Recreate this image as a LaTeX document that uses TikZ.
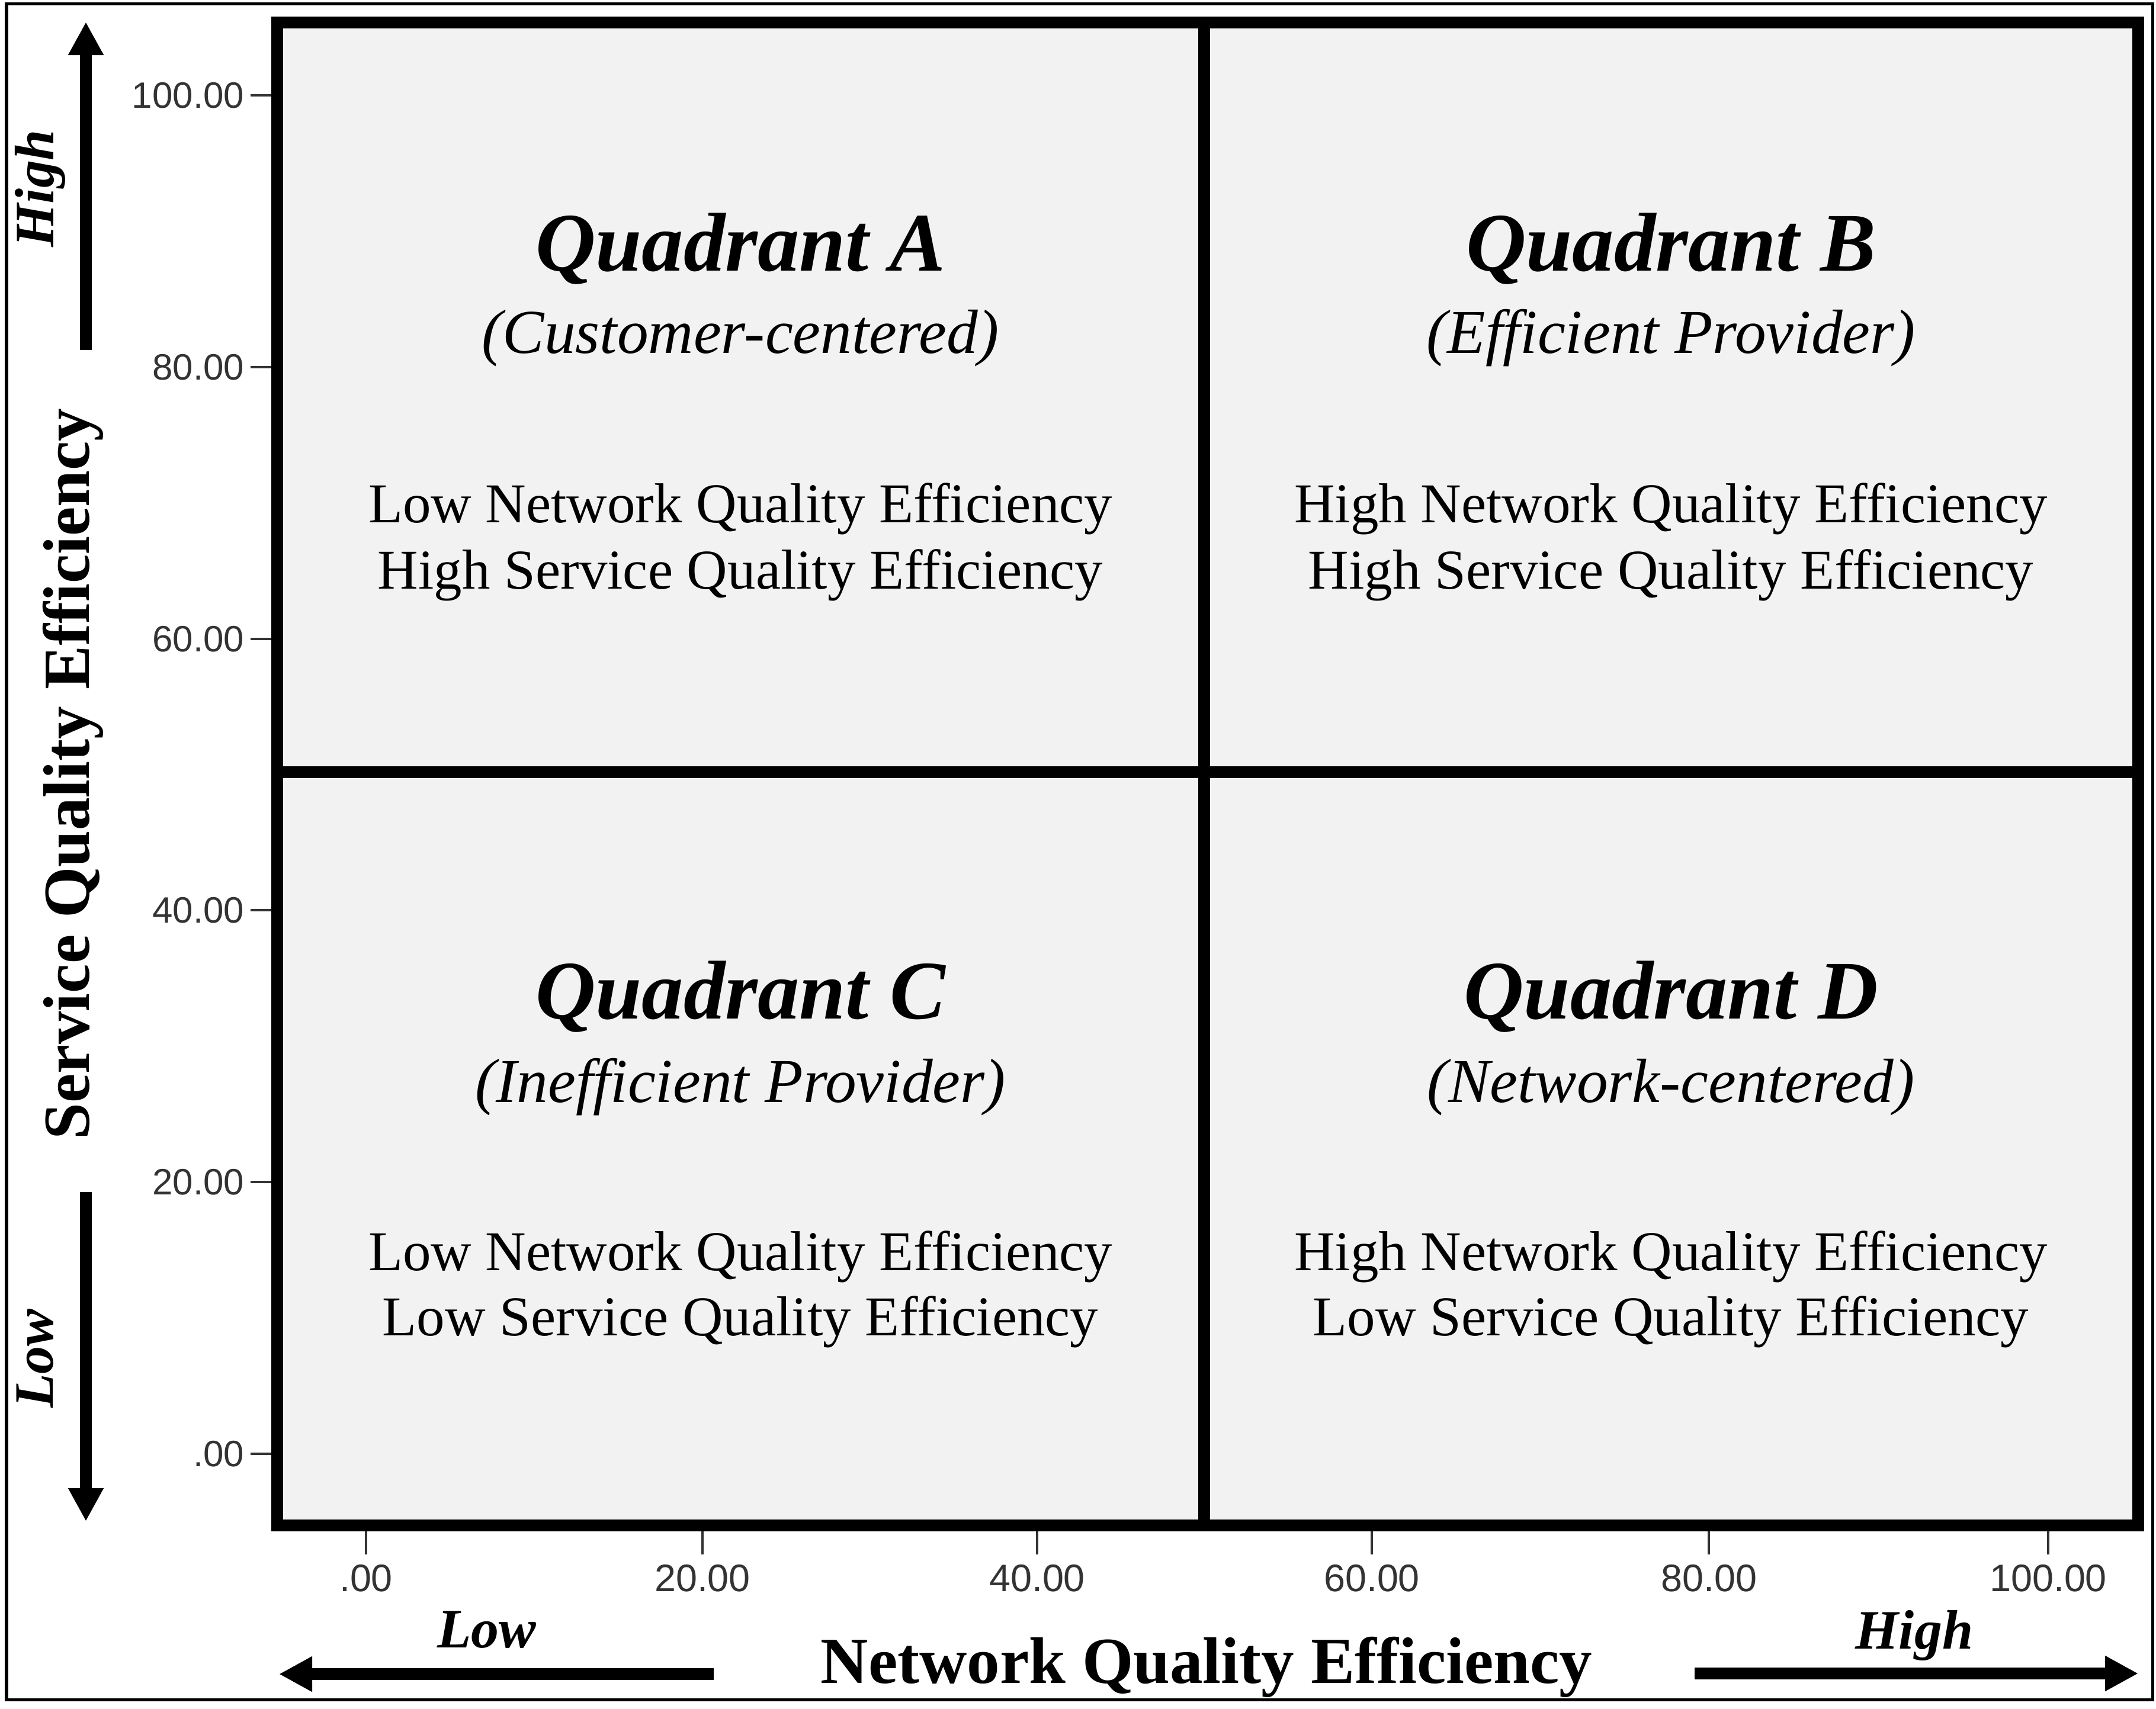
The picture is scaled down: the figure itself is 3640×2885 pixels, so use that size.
\documentclass[tikz,border=0pt]{standalone}
\usepackage{fontspec}
\setmainfont{Liberation Serif}
\newfontfamily\arialfont{Liberation Sans}
\usetikzlibrary{arrows.meta}
\definecolor{boxfill}{HTML}{F2F2F2}
\definecolor{tickgray}{HTML}{333333}
\tikzset{
  qtitle/.style={font=\fontsize{40}{48}\selectfont\bfseries\itshape, anchor=base, inner sep=0pt},
  qsub/.style={font=\fontsize{30}{36}\selectfont\itshape, anchor=base, inner sep=0pt},
  qbody/.style={font=\fontsize{27}{32}\selectfont, anchor=base, inner sep=0pt},
  axlab/.style={font=\fontsize{31.6}{38}\selectfont\bfseries, anchor=base, inner sep=0pt},
  hilo/.style={font=\fontsize{26.7}{32}\selectfont\bfseries\itshape, anchor=base, inner sep=0pt},
  yticklab/.style={font=\arialfont\fontsize{17.6}{21}\selectfont, text=tickgray, inner sep=0pt, anchor=east},
  xticklab/.style={font=\arialfont\fontsize{18.4}{22}\selectfont, text=tickgray, inner sep=0pt, anchor=base},
  tickmark/.style={draw=tickgray, line width=0.04cm},
  bigarrow/.style={line width=0.2cm, -{Triangle[length=0.56cm,width=0.56cm]}},
  boxline/.style={line width=0.2cm},
}
\begin{document}
\begin{tikzpicture}[x=0.01cm,y=0.01cm]
\useasboundingbox (0,0) rectangle (3640,-2885);
\fill[white] (0,0) rectangle (3640,-2885);
% outer frame
\draw[line width=0.05cm] (11,-7) rectangle (3634,-2870);
% plot box
\filldraw[fill=boxfill, boxline] (468,-38) rectangle (3610,-2576);
\draw[boxline] (2033,-38) -- (2033,-2576);
\draw[boxline] (468,-1304) -- (3610,-1304);
% y ticks
\foreach \v/\yy/\lab in {0/2455/.00, 20/1996/20.00, 40/1537/40.00, 60/1079/60.00, 80/620/80.00, 100/161/100.00}{
  \draw[tickmark] (423,-\yy) -- (458,-\yy);
  \node[yticklab] (ylab\v) at (413,-\yy) {\lab};
}
% x ticks
\foreach \v/\xx/\lab in {0/618/.00, 20/1186/20.00, 40/1751/40.00, 60/2316/60.00, 80/2885/80.00, 100/3458/100.00}{
  \draw[tickmark] (\xx,-2586) -- (\xx,-2625);
  \node[xticklab] (xlab\v) at (\xx,-2687) {\lab};
}
% quadrant texts
\node[qtitle] (qa) at (1250,-458) {Quadrant A};
\node[qsub] (qasub) at (1250,-596) {(Customer-centered)};
\node[qbody] (qa1) at (1250,-882) {Low Network Quality Efficiency};
\node[qbody] (qa2) at (1250,-994) {High Service Quality Efficiency};
\node[qtitle] (qb) at (2821,-458) {Quadrant B};
\node[qsub] (qbsub) at (2821,-596) {(Efficient Provider)};
\node[qbody] (qb1) at (2821,-882) {High Network Quality Efficiency};
\node[qbody] (qb2) at (2821,-994) {High Service Quality Efficiency};
\node[qtitle] (qc) at (1250,-1720) {Quadrant C};
\node[qsub] (qcsub) at (1250,-1861) {(Inefficient Provider)};
\node[qbody] (qc1) at (1250,-2145) {Low Network Quality Efficiency};
\node[qbody] (qc2) at (1250,-2255) {Low Service Quality Efficiency};
\node[qtitle] (qd) at (2821,-1720) {Quadrant D};
\node[qsub] (qdsub) at (2821,-1861) {(Network-centered)};
\node[qbody] (qd1) at (2821,-2145) {High Network Quality Efficiency};
\node[qbody] (qd2) at (2821,-2255) {Low Service Quality Efficiency};
% axis labels
\node[axlab, rotate=90] (ylabel) at (150,-1307) {Service Quality Efficiency};
\node[axlab] (xlabel) at (2037,-2842) {Network Quality Efficiency};
\node[hilo, rotate=90] (yhigh) at (90,-318) {High};
\node[hilo, rotate=90] (ylow) at (89,-2294) {Low};
\node[hilo] (xlow) at (822,-2782) {Low};
\node[hilo] (xhigh) at (3232,-2784) {High};
% arrows
\coordinate (upS) at (145,-591);
\coordinate (upE) at (145,-37);
\coordinate (dnS) at (145,-2013);
\coordinate (dnE) at (145,-2569);
\coordinate (lfS) at (1205,-2827);
\coordinate (lfE) at (471,-2827);
\coordinate (rtS) at (2861,-2826);
\coordinate (rtE) at (3610,-2826);
\draw[bigarrow] (upS) -- (upE);
\draw[bigarrow] (dnS) -- (dnE);
\draw[bigarrow] (lfS) -- (lfE);
\draw[bigarrow] (rtS) -- (rtE);
\end{tikzpicture}
\end{document}
